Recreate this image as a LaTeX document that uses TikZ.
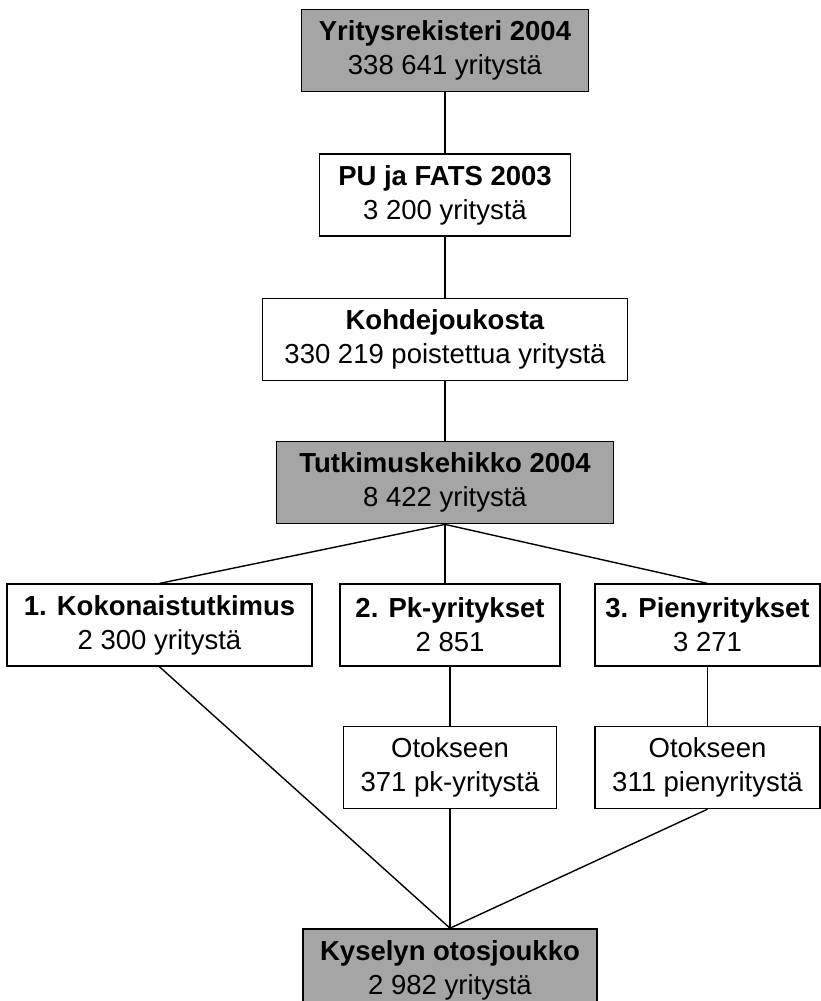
\documentclass[tikz,border=0pt]{standalone}
\usepackage{fontspec}
\setmainfont{Liberation Sans}
\usetikzlibrary{positioning}
\definecolor{scangray}{RGB}{165,165,165}

\begin{document}
\begin{tikzpicture}[
    font=\fontsize{27.5}{34}\selectfont,
    box/.style={draw, line width=1.4pt, align=center, minimum height=82pt,
      inner sep=0pt, fill=white},
    keybox/.style={box, fill=scangray},
    link/.style={line width=1.4pt}
  ]
    \useasboundingbox (0,0) rectangle (821pt,-1001pt);

    \node[keybox, minimum width=287pt] (rek) at (445pt,-50.5pt)
      {\textbf{Yritysrekisteri 2004}\\338 641 yritystä};
    \node[box, minimum width=251pt, below=61pt of rek] (pu)
      {\textbf{PU ja FATS 2003}\\3 200 yritystä};
    \node[box, minimum width=365pt, below=61pt of pu] (kohde)
      {\textbf{Kohdejoukosta}\\330 219 poistettua yritystä};
    \node[keybox, minimum width=337pt, below=60pt of kohde] (tut)
      {\textbf{Tutkimuskehikko 2004}\\8 422 yritystä};

    \node[box, minimum width=305pt, below=59pt of tut, xshift=-285.5pt] (kok)
      {\textbf{1. Kokonaistutkimus}\\2 300 yritystä};
    \node[box, minimum width=220pt, below=59pt of tut, xshift=5pt] (pk)
      {\textbf{2. Pk-yritykset}\\2 851};
    \node[box, minimum width=225pt, below=59pt of tut, xshift=262.5pt] (pien)
      {\textbf{3. Pienyritykset}\\3 271};

    \node[box, minimum width=213pt, below=59pt of pk] (otpk)
      {Otokseen\\371 pk-yritystä};
    \node[box, minimum width=225pt, below=59pt of pien] (otpien)
      {Otokseen\\311 pienyritystä};

    \node[keybox, minimum width=294pt, below=119pt of otpk] (kys)
      {\textbf{Kyselyn otosjoukko}\\2 982 yritystä};

    \draw[link] (rek) -- (pu);
    \draw[link] (pu) -- (kohde);
    \draw[link] (kohde) -- (tut);
    \draw[link] (tut.south) -- (kok.north);
    \draw[link] (tut.south) -- (tut.south |- pk.north);
    \draw[link] (tut.south) -- (pien.north);
    \draw[link] (pk) -- (otpk);
    \draw[link] (pien) -- (otpien);
    \draw[link] (kok.south) -- (kys.north);
    \draw[link] (otpk) -- (kys);
    \draw[link] (otpien.south) -- (kys.north);
  \end{tikzpicture}
\end{document}
